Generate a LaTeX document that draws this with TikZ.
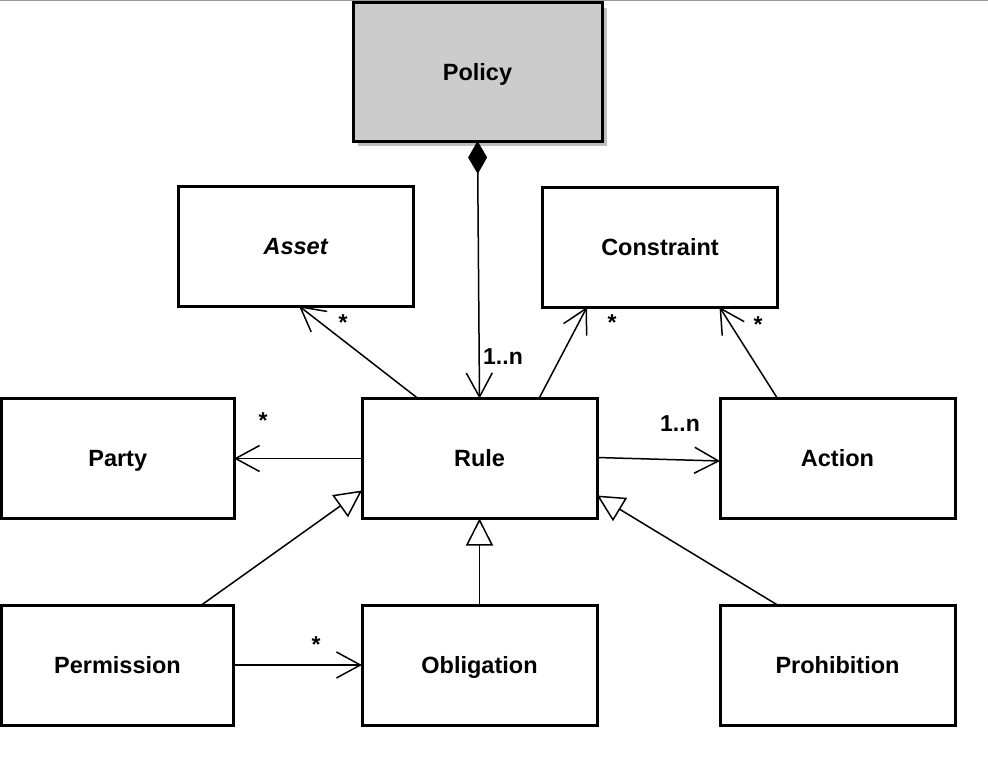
\documentclass[tikz,border=0pt]{standalone}
\usepackage{fontspec}
\setmainfont{Liberation Sans}
\usetikzlibrary{arrows.meta}
\usetikzlibrary{shadows}

\tikzset{
  cls/.style={draw=black, line width=3pt, fill=white, minimum width=235pt, minimum height=120pt,
    inner sep=0pt, outer sep=0pt, text height=16.5pt, text depth=0pt,
    font=\fontsize{23.5}{28}\selectfont\bfseries},
  assoc/.style={line width=1.5pt, -{Straight Barb[length=24pt,width=26pt]}},
  inherit/.style={line width=1.5pt, -{Triangle[open,length=27pt,width=27pt,fill=white]}},
  mult/.style={font=\fontsize{23}{28}\selectfont\bfseries, inner sep=0pt}
}

\begin{document}
\begin{tikzpicture}[x=1pt,y=-1pt]
\useasboundingbox (0,0) rectangle (988,768);
\draw[black!40, line width=1pt] (0,0.5) -- (988,0.5);
% classes
\node[cls, fill=black!20, minimum width=249pt, minimum height=138pt,
  drop shadow={shadow xshift=5pt, shadow yshift=-5pt, fill=black!25, opacity=1}] (policy) at (477.5,72) {Policy};
\node[cls] (asset) at (296,246) {\textit{Asset}};
\node[cls] (constraint) at (660,247) {Constraint};
\node[cls, minimum width=232.5pt] (party) at (117.75,458.5) {Party};
\node[cls] (rule) at (479.5,458.5) {Rule};
\node[cls] (action) at (837.5,458.5) {Action};
\node[cls, minimum width=232pt] (permission) at (117.5,665) {Permission};
\node[cls] (obligation) at (479.5,665) {Obligation};
\node[cls] (prohibition) at (837.5,665) {Prohibition};
% associations
\draw[line width=1.5pt, {Diamond[length=33pt,width=19pt]}-{Straight Barb[length=24pt,width=26pt]}] (policy.south) -- (rule.north);
\draw[assoc] ([xshift=56pt]rule.north west) -- ([xshift=3pt]asset.south);
\draw[assoc] ([xshift=177pt]rule.north west) -- ([xshift=-73pt]constraint.south);
\draw[assoc] ([xshift=-60pt]action.north) -- ([xshift=177pt]constraint.south west);
\draw[assoc] (rule.west) -- (party.east);
\draw[assoc] ([yshift=1pt]rule.east) -- ([yshift=-2.5pt]action.west);
\draw[assoc] (permission.east) -- (obligation.west);
% generalisations
\draw[inherit] ([xshift=84pt]permission.north) -- ([yshift=28pt]rule.south west);
\draw[inherit] (obligation.north) -- (rule.south);
\draw[inherit] ([xshift=-60pt]prohibition.north) -- ([yshift=23pt]rule.south east);
% multiplicities
\node[mult] (m-policy) at (503,357) {1..n};
\node[mult] (m-asset) at (343,323) {*};
\node[mult] (m-constr) at (612,323) {*};
\node[mult] (m-action) at (758,325) {*};
\node[mult] (m-party) at (263,421) {*};
\node[mult] (m-rule) at (680,424) {1..n};
\node[mult] (m-oblig) at (316,645) {*};
\end{tikzpicture}
\end{document}
